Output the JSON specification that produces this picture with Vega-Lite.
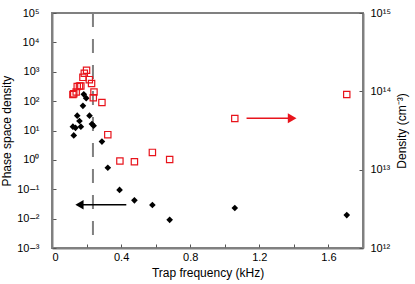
{
  "$schema": "https://vega.github.io/schema/vega-lite/v6.json",
  "width": 311,
  "height": 235,
  "autosize": "none",
  "padding": {"left": 52, "top": 13, "right": 52, "bottom": 36},
  "background": "white",
  "config": {
    "font": "Liberation Sans",
    "view": {"stroke": "#808080", "strokeWidth": 2},
    "axis": {
      "domainColor": "#808080",
      "domainWidth": 2,
      "tickColor": "#555555",
      "tickWidth": 1,
      "grid": false,
      "labelColor": "#000000",
      "labelFontSize": 11,
      "titleFontSize": 12,
      "titleFontWeight": "normal",
      "titleColor": "#000000"
    }
  },
  "datasets": {
    "psd": [
      {"f": 0.184, "v": 170},
      {"f": 0.198, "v": 126},
      {"f": 0.179, "v": 69},
      {"f": 0.146, "v": 32},
      {"f": 0.217, "v": 32},
      {"f": 0.159, "v": 21},
      {"f": 0.121, "v": 13.5},
      {"f": 0.136, "v": 12.3},
      {"f": 0.167, "v": 13.5},
      {"f": 0.231, "v": 16.6},
      {"f": 0.241, "v": 14.5},
      {"f": 0.126, "v": 6.8},
      {"f": 0.289, "v": 4.2},
      {"f": 0.323, "v": 0.54},
      {"f": 0.391, "v": 0.095},
      {"f": 0.477, "v": 0.042},
      {"f": 0.581, "v": 0.029},
      {"f": 0.681, "v": 0.0091},
      {"f": 1.058, "v": 0.023},
      {"f": 1.706, "v": 0.0132}
    ],
    "dens": [
      {"f": 0.121, "v": 9.1e13},
      {"f": 0.126, "v": 9.3e13},
      {"f": 0.140, "v": 9.8e13},
      {"f": 0.146, "v": 1.15e14},
      {"f": 0.159, "v": 1.17e14},
      {"f": 0.167, "v": 1.17e14},
      {"f": 0.179, "v": 1.51e14},
      {"f": 0.187, "v": 1.7e14},
      {"f": 0.200, "v": 1.86e14},
      {"f": 0.216, "v": 1.41e14},
      {"f": 0.229, "v": 1.26e14},
      {"f": 0.243, "v": 9.8e13},
      {"f": 0.239, "v": 8.3e13},
      {"f": 0.289, "v": 7.2e13},
      {"f": 0.323, "v": 2.8e13},
      {"f": 0.393, "v": 1.29e13},
      {"f": 0.477, "v": 1.26e13},
      {"f": 0.581, "v": 1.66e13},
      {"f": 0.681, "v": 1.35e13},
      {"f": 1.058, "v": 4.5e13},
      {"f": 1.706, "v": 9.1e13}
    ],
    "leftArrow": [{"f": 0.159, "f2": 0.43, "v": 0.0295}],
    "rightArrow": [{"f": 1.126, "f2": 1.39, "v": 4.52e13}],
    "dash": [{"f": 0.237}]
  },
  "encoding": {
    "x": {
      "field": "f",
      "type": "quantitative",
      "scale": {"domain": [0, 1.8], "nice": false, "zero": false},
      "axis": {
        "title": "Trap frequency (kHz)",
        "values": [0, 0.2, 0.4, 0.6, 0.8, 1.0, 1.2, 1.4, 1.6],
        "labelExpr": "round(datum.value*10) % 4 == 0 ? format(datum.value, '.1~f') : ''",
        "tickSize": -4,
        "labelPadding": 7,
        "titlePadding": 5
      }
    }
  },
  "layer": [
    {
      "layer": [
        {
          "data": {"name": "dash"},
          "mark": {"type": "rule", "color": "#808080", "strokeWidth": 2, "strokeDash": [14, 12]},
          "encoding": {}
        },
        {
          "data": {"name": "psd"},
          "mark": {"type": "point", "shape": "diamond", "filled": true, "color": "#000000", "size": 44, "opacity": 1},
          "encoding": {
            "y": {
              "field": "v",
              "type": "quantitative",
              "scale": {"type": "log", "domain": [0.001, 100000], "nice": false},
              "axis": {
                "orient": "left",
                "title": "Phase space density",
                "values": [0.001, 0.01, 0.1, 1, 10, 100, 1000, 10000, 100000],
                "labelExpr": "'10' + replace(replace(replace(replace(replace(replace(replace(format(log(datum.value)/LN10, 'd'), '-', '⁻'), '0', '⁰'), '1', '¹'), '2', '²'), '3', '³'), '4', '⁴'), '5', '⁵')",
                "tickSize": -4,
                "labelPadding": 17,
                "titlePadding": 3
              }
            }
          }
        },
        {
          "data": {"name": "leftArrow"},
          "mark": {"type": "rule", "color": "#000000", "strokeWidth": 1.5},
          "encoding": {
            "x2": {"field": "f2"},
            "y": {"field": "v", "type": "quantitative"}
          }
        },
        {
          "data": {"name": "leftArrow"},
          "mark": {"type": "point", "shape": "triangle-left", "filled": true, "color": "#000000", "size": 90, "opacity": 1},
          "encoding": {
            "y": {"field": "v", "type": "quantitative"}
          }
        }
      ]
    },
    {
      "layer": [
        {
          "data": {"name": "dens"},
          "mark": {"type": "point", "shape": "square", "filled": false, "color": "#e8141c", "strokeWidth": 1.2, "size": 40, "opacity": 1},
          "encoding": {
            "y": {
              "field": "v",
              "type": "quantitative",
              "scale": {"type": "log", "domain": [1e12, 1e15], "nice": false},
              "axis": {
                "orient": "right",
                "title": "Density (cm⁻³)",
                "titleAngle": 270,
                "values": [1e12, 1e13, 1e14, 1e15],
                "labelExpr": "'10' + replace(replace(replace(replace(replace(format(log(datum.value)/LN10, 'd'), '1', '¹'), '2', '²'), '3', '³'), '4', '⁴'), '5', '⁵')",
                "tickSize": -4,
                "labelPadding": 11,
                "titlePadding": 18
              }
            }
          }
        },
        {
          "data": {"name": "rightArrow"},
          "mark": {"type": "rule", "color": "#e8141c", "strokeWidth": 1.5},
          "encoding": {
            "x2": {"field": "f2"},
            "y": {"field": "v", "type": "quantitative"}
          }
        },
        {
          "data": {"name": "rightArrow"},
          "mark": {"type": "point", "shape": "triangle-right", "filled": true, "color": "#e8141c", "size": 100, "opacity": 1},
          "encoding": {
            "x": {"field": "f2", "type": "quantitative"},
            "y": {"field": "v", "type": "quantitative"}
          }
        }
      ]
    }
  ],
  "resolve": {"scale": {"y": "independent"}, "axis": {"y": "independent"}}
}
